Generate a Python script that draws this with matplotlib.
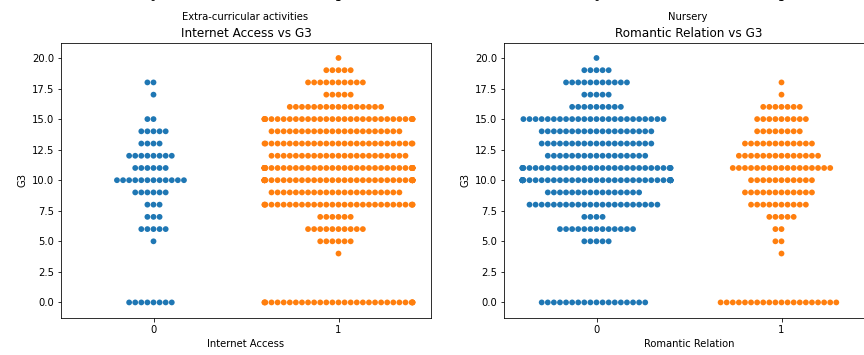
import numpy as np
import pandas as pd
import seaborn as sns
import matplotlib
matplotlib.use("Agg")
import matplotlib.pyplot as plt

# G3 grade levels and how many students sit at each one per group
g3_levels = [0, 4, 5, 6, 7, 8, 9, 10, 11, 12, 13, 14, 15, 16, 17, 18, 19, 20]

internet_no = [8, 0, 1, 5, 3, 3, 6, 12, 6, 8, 4, 5, 2, 0, 1, 2, 0, 0]
internet_yes = [30, 1, 6, 10, 6, 29, 22, 44, 41, 23, 27, 22, 31, 16, 5, 10, 5, 1]

romantic_no = [18, 0, 5, 13, 4, 22, 16, 45, 30, 17, 19, 19, 24, 9, 5, 11, 5, 1]
romantic_yes = [20, 1, 2, 2, 5, 10, 12, 11, 17, 14, 12, 8, 9, 7, 1, 1, 0, 0]

colors = ["#1f77b4", "#ff7f0e"]


def make_frame(counts_0, counts_1, col):
    rows = []
    for g, c in zip(g3_levels, counts_0):
        rows += [(0, g)] * c
    for g, c in zip(g3_levels, counts_1):
        rows += [(1, g)] * c
    return pd.DataFrame(rows, columns=[col, "G3"])


df_net = make_frame(internet_no, internet_yes, "internet")
df_rom = make_frame(romantic_no, romantic_yes, "romantic")

fig = plt.figure(figsize=(12, 355 / 72), dpi=72)
ax1 = fig.add_axes([61 / 864, 37.3 / 355, 370 / 864, 275 / 355])
ax2 = fig.add_axes([504 / 864, 37.3 / 355, 370 / 864, 275 / 355])

sns.swarmplot(data=df_net, x="internet", y="G3", hue="internet",
              palette=colors, legend=False, size=5.8, ax=ax1)
sns.swarmplot(data=df_rom, x="romantic", y="G3", hue="romantic",
              palette=colors, legend=False, size=5.8, ax=ax2)

for ax, title, xl in [(ax1, "Internet Access vs G3", "Internet Access"),
                      (ax2, "Romantic Relation vs G3", "Romantic Relation")]:
    ax.set_title(title, fontsize=12)
    ax.set_xlabel(xl, fontsize=10)
    ax.set_ylabel("G3", fontsize=10)
    ax.set_xlim(-0.5, 1.5)
    ax.set_ylim(-1.25, 21.25)
    ax.set_yticks(np.arange(0, 20.1, 2.5))
    ax.tick_params(labelsize=10)

# leftovers from the row of plots above
fig.text(245 / 864, 1 - 17 / 355, "Extra-curricular activities", ha="center",
         va="center", fontsize=10)
fig.text(688 / 864, 1 - 17 / 355, "Nursery", ha="center", va="center", fontsize=10)
for xp, t in [(153, "0"), (338, "1"), (596, "0"), (781, "1")]:
    fig.text(xp / 864, 1 - 3 / 355, t, ha="center", va="bottom", fontsize=10)

fig.savefig("out.png", dpi=72)
